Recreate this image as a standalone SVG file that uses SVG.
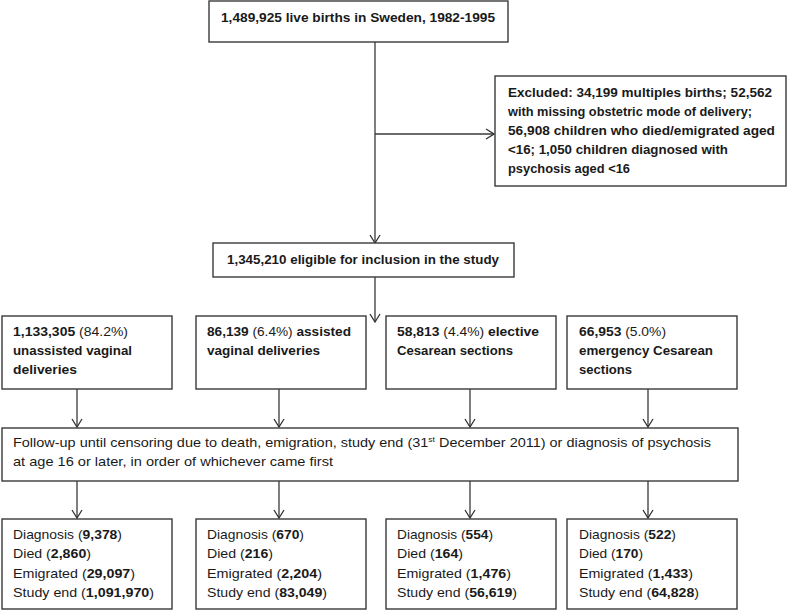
<svg xmlns="http://www.w3.org/2000/svg" width="788" height="611" viewBox="0 0 788 611">
<defs>
<marker id="arr" markerWidth="10" markerHeight="12" refX="9" refY="6" orient="auto" markerUnits="userSpaceOnUse">
<path d="M1,1 L9,6 L1,11" fill="none" stroke="#333" stroke-width="1.3"/>
</marker>
</defs>
<style>
.box{fill:#fff;stroke:#3a3a3a;stroke-width:1.4}
.ln{fill:none;stroke:#3a3a3a;stroke-width:1.3}
text{font-family:"Liberation Sans",Arial,sans-serif;font-size:13.5px;fill:#1a1a1a}
.b{font-weight:bold}
.n{font-weight:normal}
</style>
<rect width="788" height="611" fill="#fff"/>
<g id="connectors">
<line class="ln" x1="375" y1="42" x2="375" y2="243" marker-end="url(#arr)"/>
<line class="ln" x1="375" y1="134" x2="494" y2="134" marker-end="url(#arr)"/>
<line class="ln" x1="375" y1="277" x2="375" y2="322" marker-end="url(#arr)"/>
<line class="ln" x1="77" y1="389" x2="77" y2="427" marker-end="url(#arr)"/>
<line class="ln" x1="279" y1="389" x2="279" y2="427" marker-end="url(#arr)"/>
<line class="ln" x1="470" y1="389" x2="470" y2="427" marker-end="url(#arr)"/>
<line class="ln" x1="648" y1="389" x2="648" y2="427" marker-end="url(#arr)"/>
<line class="ln" x1="77" y1="481" x2="77" y2="518" marker-end="url(#arr)"/>
<line class="ln" x1="279" y1="481" x2="279" y2="518" marker-end="url(#arr)"/>
<line class="ln" x1="470" y1="481" x2="470" y2="518" marker-end="url(#arr)"/>
<line class="ln" x1="648" y1="481" x2="648" y2="518" marker-end="url(#arr)"/>
</g>
<g id="births">
<rect class="box" x="209" y="1" width="299" height="41"/>
<text class="b" x="221" y="22" textLength="274" lengthAdjust="spacingAndGlyphs">1,489,925 live births in Sweden, 1982-1995</text>
</g>
<g id="excluded">
<rect class="box" x="495" y="76" width="291" height="110"/>
<text class="b" x="508" y="97" textLength="264" lengthAdjust="spacingAndGlyphs">Excluded: 34,199 multiples births; 52,562</text>
<text class="b" x="508" y="116" textLength="244" lengthAdjust="spacingAndGlyphs">with missing obstetric mode of delivery;</text>
<text class="b" x="508" y="135" textLength="267" lengthAdjust="spacingAndGlyphs">56,908 children who died/emigrated aged</text>
<text class="b" x="508" y="154" textLength="220" lengthAdjust="spacingAndGlyphs">&lt;16; 1,050 children diagnosed with</text>
<text class="b" x="508" y="173" textLength="122" lengthAdjust="spacingAndGlyphs">psychosis aged &lt;16</text>
</g>
<g id="eligible">
<rect class="box" x="213" y="243" width="301" height="34"/>
<text class="b" x="227" y="264" textLength="272" lengthAdjust="spacingAndGlyphs">1,345,210 eligible for inclusion in the study</text>
</g>
<g id="unassisted">
<rect class="box" x="2" y="316" width="170" height="73"/>
<text x="13" y="336" textLength="115" lengthAdjust="spacingAndGlyphs"><tspan class="b">1,133,305</tspan> (84.2%)</text>
<text class="b" x="13" y="355" textLength="119" lengthAdjust="spacingAndGlyphs">unassisted vaginal</text>
<text class="b" x="13" y="374" textLength="64" lengthAdjust="spacingAndGlyphs">deliveries</text>
</g>
<g id="assisted">
<rect class="box" x="196" y="316" width="170" height="73"/>
<text x="207" y="336" textLength="144" lengthAdjust="spacingAndGlyphs"><tspan class="b">86,139</tspan> (6.4%) <tspan class="b">assisted</tspan></text>
<text class="b" x="207" y="355" textLength="113" lengthAdjust="spacingAndGlyphs">vaginal deliveries</text>
</g>
<g id="elective">
<rect class="box" x="386" y="316" width="170" height="73"/>
<text x="397" y="336" textLength="142" lengthAdjust="spacingAndGlyphs"><tspan class="b">58,813</tspan> (4.4%) <tspan class="b">elective</tspan></text>
<text class="b" x="397" y="355" textLength="116" lengthAdjust="spacingAndGlyphs">Cesarean sections</text>
</g>
<g id="emergency">
<rect class="box" x="567" y="316" width="170" height="73"/>
<text x="579" y="336" textLength="87" lengthAdjust="spacingAndGlyphs"><tspan class="b">66,953</tspan> (5.0%)</text>
<text class="b" x="579" y="355" textLength="134" lengthAdjust="spacingAndGlyphs">emergency Cesarean</text>
<text class="b" x="579" y="374" textLength="53" lengthAdjust="spacingAndGlyphs">sections</text>
</g>
<g id="followup">
<rect class="box" x="2" y="428" width="736" height="53"/>
<text x="13" y="447" textLength="698" lengthAdjust="spacingAndGlyphs">Follow-up until censoring due to death, emigration, study end (31<tspan font-size="8" dy="-5">st</tspan><tspan dy="5"> December 2011) or diagnosis of psychosis</tspan></text>
<text x="13" y="466" textLength="320" lengthAdjust="spacingAndGlyphs">at age 16 or later, in order of whichever came first</text>
</g>
<g id="result1">
<rect class="box" x="2" y="519" width="170" height="90"/>
<text x="13" y="539" textLength="109" lengthAdjust="spacingAndGlyphs">Diagnosis (<tspan class="b">9,378</tspan>)</text>
<text x="13" y="558" textLength="78" lengthAdjust="spacingAndGlyphs">Died (<tspan class="b">2,860</tspan>)</text>
<text x="13" y="578" textLength="122" lengthAdjust="spacingAndGlyphs">Emigrated (<tspan class="b">29,097</tspan>)</text>
<text x="13" y="597" textLength="141" lengthAdjust="spacingAndGlyphs">Study end (<tspan class="b">1,091,970</tspan>)</text>
</g>
<g id="result2">
<rect class="box" x="196" y="519" width="170" height="90"/>
<text x="207" y="539" textLength="97" lengthAdjust="spacingAndGlyphs">Diagnosis (<tspan class="b">670</tspan>)</text>
<text x="207" y="558" textLength="66" lengthAdjust="spacingAndGlyphs">Died (<tspan class="b">216</tspan>)</text>
<text x="207" y="578" textLength="115" lengthAdjust="spacingAndGlyphs">Emigrated (<tspan class="b">2,204</tspan>)</text>
<text x="207" y="597" textLength="120" lengthAdjust="spacingAndGlyphs">Study end (<tspan class="b">83,049</tspan>)</text>
</g>
<g id="result3">
<rect class="box" x="386" y="519" width="170" height="90"/>
<text x="397" y="539" textLength="96" lengthAdjust="spacingAndGlyphs">Diagnosis (<tspan class="b">554</tspan>)</text>
<text x="397" y="558" textLength="66" lengthAdjust="spacingAndGlyphs">Died (<tspan class="b">164</tspan>)</text>
<text x="397" y="578" textLength="114" lengthAdjust="spacingAndGlyphs">Emigrated (<tspan class="b">1,476</tspan>)</text>
<text x="397" y="597" textLength="120" lengthAdjust="spacingAndGlyphs">Study end (<tspan class="b">56,619</tspan>)</text>
</g>
<g id="result4">
<rect class="box" x="567" y="519" width="170" height="90"/>
<text x="579" y="539" textLength="97" lengthAdjust="spacingAndGlyphs">Diagnosis (<tspan class="b">522</tspan>)</text>
<text x="579" y="558" textLength="64" lengthAdjust="spacingAndGlyphs">Died (<tspan class="b">170</tspan>)</text>
<text x="579" y="578" textLength="114" lengthAdjust="spacingAndGlyphs">Emigrated (<tspan class="b">1,433</tspan>)</text>
<text x="579" y="597" textLength="120" lengthAdjust="spacingAndGlyphs">Study end (<tspan class="b">64,828</tspan>)</text>
</g>
</svg>
